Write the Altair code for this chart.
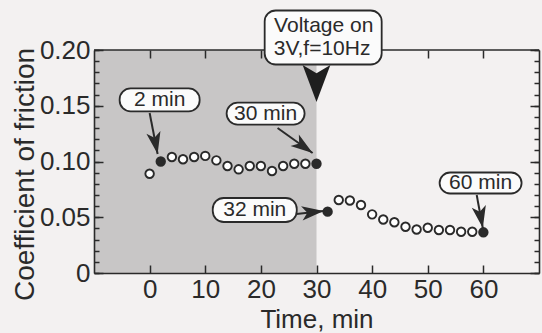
import math
import altair as alt
import pandas as pd

# ---------------- data ----------------
time_before = [0, 2, 4, 6, 8, 10, 12, 14, 16, 18, 20, 22, 24, 26, 28, 30]
cof_before = [0.089, 0.100, 0.104, 0.102, 0.104, 0.105, 0.101, 0.096,
              0.093, 0.096, 0.096, 0.0915, 0.096, 0.098, 0.098, 0.098]
time_after = [32, 34, 36, 38, 40, 42, 44, 46, 48, 50, 52, 54, 56, 58, 60]
cof_after = [0.055, 0.0655, 0.065, 0.061, 0.0526, 0.048, 0.0455, 0.0415,
             0.039, 0.0406, 0.0386, 0.0386, 0.037, 0.037, 0.0365]
marked_times = [2, 30, 32, 60]

shade_start = -10
voltage_on_time = 30

x_ticks = [0, 10, 20, 30, 40, 50, 60]
x_ticks_top = [0, 10, 20, 50, 60]          # 30 and 40 sit behind the label box
y_ticks_major = [0, 0.05, 0.10, 0.15, 0.20]
y_ticks_minor = [round(i * 0.01, 2) for i in range(21)]

# annotation boxes: label, centre (data units), box size (px)
box_labels = ["2 min", "30 min", "32 min", "60 min", "voltage"]
box_cx = [1.8, 20.85, 18.9, 59.5, 31.2]
box_cy = [0.1552, 0.143, 0.0565, 0.0807, 0.2112]
box_w_px = [80, 78, 84, 82, 117]
box_h_px = [23, 22, 24, 21, 54]

# annotation texts (data units)
note_text = ["2 min", "30 min", "32 min", "60 min", "Voltage on", "3V,f=10Hz"]
note_x = [1.8, 20.85, 18.9, 59.5, 31.3, 31.0]
note_y = [0.1552, 0.143, 0.0565, 0.0807, 0.2215, 0.2013]

# arrows: start -> tip (data units)
arrow_x0 = [0.0, 23.0, 26.4, 58.8]
arrow_y0 = [0.1435, 0.130, 0.0529, 0.0700]
arrow_x1 = [1.44, 29.3, 31.3, 59.9]
arrow_y1 = [0.1067, 0.1076, 0.0556, 0.0404]

# big "voltage on" arrow tip
volt_tip_x = [30.0]
volt_tip_y = [0.1534]

# ---------------- layout ----------------
W, H = 445, 223
X_DOMAIN = [-10, 70]
Y_DOMAIN = [0, 0.2]
XPX = W / (X_DOMAIN[1] - X_DOMAIN[0])
YPX = H / (Y_DOMAIN[1] - Y_DOMAIN[0])
INK = "#2a2a2a"
FONT = "Liberation Sans"

xs = alt.Scale(domain=X_DOMAIN, nice=False, zero=False)
ys = alt.Scale(domain=Y_DOMAIN, nice=False, zero=False)

pts = pd.DataFrame({
    "time": time_before + time_after,
    "cof": cof_before + cof_after,
})
pts["filled"] = pts["time"].isin(marked_times)

shade = pd.DataFrame({"x0": [shade_start], "x1": [voltage_on_time],
                      "y0": [Y_DOMAIN[0]], "y1": [Y_DOMAIN[1]]})
frame_top = pd.DataFrame({"x0": [X_DOMAIN[0]], "x1": [X_DOMAIN[1]],
                          "y": [Y_DOMAIN[1]]})

boxes = pd.DataFrame({
    "label": box_labels,
    "x0": [c - w / 2 / XPX for c, w in zip(box_cx, box_w_px)],
    "x1": [c + w / 2 / XPX for c, w in zip(box_cx, box_w_px)],
    "y0": [c - h / 2 / YPX for c, h in zip(box_cy, box_h_px)],
    "y1": [c + h / 2 / YPX for c, h in zip(box_cy, box_h_px)],
})
notes = pd.DataFrame({"text": note_text, "x": note_x, "y": note_y})

angles = []
for a, b, c, d in zip(arrow_x0, arrow_y0, arrow_x1, arrow_y1):
    dx = (c - a) * XPX
    dy = -(d - b) * YPX
    angles.append(math.degrees(math.atan2(dx, -dy)) % 360)
arrows = pd.DataFrame({"x0": arrow_x0, "y0": arrow_y0, "x1": arrow_x1,
                       "y1": arrow_y1, "ang": angles})
volt = pd.DataFrame({"x": volt_tip_x, "y": volt_tip_y, "ang": [180]})


def ax(**kw):
    base = dict(grid=False, labels=False, domain=False, ticks=False,
                title=None, zindex=1, tickColor=INK, tickWidth=1.5,
                domainColor=INK, domainWidth=1.6)
    base.update(kw)
    return alt.Axis(**base)


# shaded "voltage off" region
shade_layer = alt.Chart(shade).mark_rect(color="#c8c6c6").encode(
    x=alt.X("x0:Q", scale=xs, axis=None), x2="x1:Q",
    y=alt.Y("y0:Q", scale=ys, axis=None), y2="y1:Q",
)
top_frame = alt.Chart(frame_top).mark_rule(color=INK, strokeWidth=1.6).encode(
    x=alt.X("x0:Q", scale=xs, axis=None), x2="x1:Q",
    y=alt.Y("y:Q", scale=ys, axis=None),
)

x_main_axis = ax(orient="bottom", labels=True, domain=True, values=x_ticks,
                 labelFontSize=26, labelFont=FONT, labelColor=INK,
                 labelPadding=24, labelBaseline="alphabetic",
                 title="Time, min", titleFontSize=26, titleFont=FONT,
                 titleFontWeight="normal", titleColor=INK,
                 titleY=54, titleBaseline="alphabetic")
y_main_axis = ax(orient="left", labels=True, domain=True, values=y_ticks_major,
                 labelExpr="datum.value == 0 ? '0' : format(datum.value, '.2f')",
                 labelFontSize=26, labelFont=FONT, labelColor=INK,
                 labelPadding=4, labelBaseline="middle",
                 title="Coefficient of friction", titleFontSize=28,
                 titleFont=FONT, titleFontWeight="normal", titleColor=INK,
                 titleAngle=270, titleAlign="center", titleX=-61, titleY=124,
                 titleBaseline="alphabetic")

open_layer = alt.Chart(pts).transform_filter("!datum.filled").mark_point(
    shape="circle", filled=True, fill="white", stroke=INK, strokeWidth=1.9,
    size=72, opacity=1,
).encode(
    x=alt.X("time:Q", scale=xs, axis=x_main_axis),
    y=alt.Y("cof:Q", scale=ys, axis=y_main_axis),
)

filled_layer = alt.Chart(pts).transform_filter("datum.filled").mark_point(
    shape="circle", filled=True, fill=INK, stroke=INK, strokeWidth=1.9,
    size=72, opacity=1,
).encode(
    x=alt.X("time:Q", scale=xs, axis=None),
    y=alt.Y("cof:Q", scale=ys, axis=None),
)


def tick_layer(xaxis, yaxis):
    return alt.Chart(pts).mark_point(opacity=0).encode(
        x=alt.X("time:Q", scale=xs, axis=xaxis),
        y=alt.Y("cof:Q", scale=ys, axis=yaxis),
    )


t1 = tick_layer(ax(orient="top", offset=-H, ticks=True, tickSize=8, values=x_ticks),
                ax(orient="right", offset=-W, ticks=True, tickSize=9, values=y_ticks_major))
t2 = tick_layer(ax(orient="bottom", offset=-H, ticks=True, tickSize=8,
                   values=x_ticks_top),
                ax(orient="right", offset=-W, ticks=True, tickSize=5, values=y_ticks_minor))
t3 = tick_layer(None,
                ax(orient="left", offset=-W, ticks=True, tickSize=9, domain=True,
                   values=y_ticks_major))
t4 = tick_layer(None,
                ax(orient="left", offset=-W, ticks=True, tickSize=5, values=y_ticks_minor))

arrow_lines = alt.Chart(arrows).mark_rule(color=INK, strokeWidth=2).encode(
    x=alt.X("x0:Q", scale=xs, axis=None), x2="x1:Q",
    y=alt.Y("y0:Q", scale=ys, axis=None), y2="y1:Q",
)
arrow_heads = alt.Chart(arrows).mark_point(
    shape="M0,0 L-0.65,2 L0,1.5 L0.65,2 Z", filled=True, color=INK,
    size=484, opacity=1,
).encode(
    x=alt.X("x1:Q", scale=xs, axis=None),
    y=alt.Y("y1:Q", scale=ys, axis=None),
    angle=alt.Angle("ang:Q", scale=None),
)
volt_head = alt.Chart(volt).mark_point(
    shape="M0,0 L-0.75,2 L0,1.55 L0.75,2 Z", filled=True, color="#1e1e1e",
    size=1369, opacity=1,
).encode(
    x=alt.X("x:Q", scale=xs, axis=None),
    y=alt.Y("y:Q", scale=ys, axis=None),
    angle=alt.Angle("ang:Q", scale=None),
)

box_layer = alt.Chart(boxes).mark_rect(
    fill="#fbfbfb", stroke=INK, strokeWidth=1.8, cornerRadius=11,
).encode(
    x=alt.X("x0:Q", scale=xs, axis=None), x2="x1:Q",
    y=alt.Y("y0:Q", scale=ys, axis=None), y2="y1:Q",
)
note_layer = alt.Chart(notes).mark_text(
    font=FONT, fontSize=21, color=INK, baseline="middle", align="center",
).encode(
    x=alt.X("x:Q", scale=xs, axis=None),
    y=alt.Y("y:Q", scale=ys, axis=None),
    text="text:N",
)

chart = alt.layer(
    shade_layer, top_frame, t1, t2, t3, t4, open_layer, filled_layer,
    arrow_lines, arrow_heads, volt_head, box_layer, note_layer,
).resolve_axis(x="independent", y="independent").properties(
    width=W, height=H,
    autosize=alt.AutoSizeParams(type="none"),
    padding={"left": 94, "top": 50, "right": 3, "bottom": 60},
    background="#f3f1f1",
).configure_view(stroke=None)

chart.save("out.html", embed_options={"renderer": "svg", "actions": False})
